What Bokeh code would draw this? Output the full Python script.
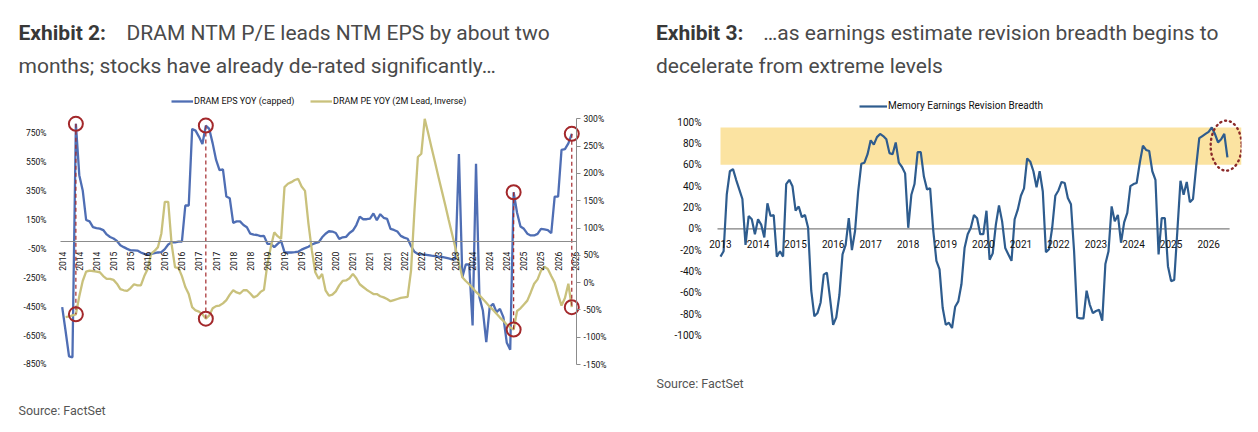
import math
from bokeh.plotting import figure
from bokeh.models import (Range1d, LinearAxis, FixedTicker, PrintfTickFormatter, Label,
                          Legend, LegendItem, BoxAnnotation)
from bokeh.layouts import row
from bokeh.embed import file_html
from bokeh.resources import INLINE

NAN = float("nan")

# ---------------- Exhibit 2 data (monthly, Jan 2014 .. Jun 2026) ----------------
eps_yoy = [-453, -620, -794, -800, 815, 460, 354, 150, 140, 100,
           93, 90, 80, 50, 32, 22, 5, -25, -38, -50,
           -60, -61, -62, -75, -85, -89, -85, -80, -75, -72,
           -52, -20, -5, -5, 0, 0, 250, 250, 780, 768,
           725, 676, 803, 780, 680, 565, 495, 500, 312, 300,
           130, 140, 140, 115, 100, 55, 49, 46, 38, 40,
           -15, -15, -38, -15, 5, -73, -75, -75, -73, -70,
           -55, -45, -35, -20, -10, -4, 30, 55, 72, 70,
           60, 19, 30, 33, 60, 77, 115, 173, 155, 155,
           160, 195, 148, 190, 165, 158, 88, 81, 70, 40,
           28, 20, -30, -70, -85, -88, -90, -93, -97, -100,
           -104, -106, -110, -116, -122, -120, 607, -246, -158, -158,
           -580, 538, -384, -476, -695, -453, -430, -488, -465, -522,
           -700, -747, 342, 200, 105, 89, 55, 43, 43, 54,
           89, 85, 80, 58, 312, 312, 635, 640, 680, 746]

pe_yoy_lead_inv = [NAN, -63, -62, -60, -58, -25, 3, 20, 22, 21,
                   20, 19, 12, 7, 7, 5, -2, -12, -14, -15,
                   -10, -3, -5, -5, 12, 25, 53, 58, 65, 90,
                   148, 148, 70, 28, 27, 12, -8, -21, -45, -51,
                   -53, -58, -66, -60, -47, -43, -42, -38, -32, -22,
                   -14, -18, -20, -14, -14, -20, -27, -24, -17, -13,
                   34, 65, 92, 85, 80, 175, 181, 184, 188, 190,
                   176, 168, 108, 59, 19, 7, 16, -14, -24, -22,
                   -16, -5, 3, 4, 8, 16, 8, -3, -8, -13,
                   -17, -21, -21, -25, -27, -30, -34, -32, -30, -28,
                   -27, -26, 22, 132, 230, 236, 300, 274, 247, 221,
                   194, 168, 142, 115, 89, 63, 36, 10, 3, -3,
                   -10, -17, -23, -30, -37, -44, -50, -57, -64, -70,
                   -77, -82, -86, -52, -47, -40, -33, -18, -2, 6,
                   22, 29, 25, 12, 0, -22, -42, -28, -2, -45]

months_left = list(range(len(eps_yoy)))
left_tick_months = list(range(0, 151, 5))
left_tick_labels = ["2014", "2014", "2014", "2015", "2015", "2016", "2016", "2016",
                    "2017", "2017", "2018", "2018", "2019", "2019", "2019", "2020",
                    "2020", "2021", "2021", "2021", "2022", "2022", "2023", "2023",
                    "2024", "2024", "2024", "2025", "2025", "2026", "2026"]
highlight_months = [4, 42, 132, 149]

# ---------------- Exhibit 3 data (monthly, Jan 2013 .. Jul 2026) ----------------
breadth = [-26, -21, 32, 54, 56, 46, 37, 28, -15, 12,
           9, -5, 9, 4, -8, 24, 12, 13, -26, -21,
           -26, 42, 46, 40, 17, 21, 11, 13, 1, -58,
           -82, -79, -69, -43, -41, -65, -90, -83, -62, -24,
           -15, 10, -20, -2, 35, 61, 62, 70, 83, 79,
           86, 89, 87, 84, 71, 70, 81, 62, 58, 52,
           1, 32, 42, 72, 72, 49, 37, 38, -2, -30,
           -38, -74, -90, -88, -93, -73, -68, -52, -18, -5,
           1, 13, 10, -5, -5, 17, -29, -23, 4, 22,
           7, -18, -24, -30, 9, 18, 31, 38, 66, 63,
           54, 39, 54, 35, -22, -19, 1, 31, 36, 44,
           43, 29, 23, -21, -83, -84, -84, -58, -71, -79,
           -77, -76, -86, -33, -21, 21, 7, 13, -13, 6,
           15, 40, 42, 43, 62, 78, 74, 73, 54, 46,
           -24, 10, 10, -35, -49, -48, -2, 45, 32, 44,
           25, 28, 58, 85, 87, 89, 91, 95, 89, 81,
           84, 89, 67]
months_right = list(range(len(breadth)))
right_tick_months = list(range(0, 157, 12))
right_tick_labels = ["2013", "2014", "2015", "2016", "2017", "2018", "2019",
                     "2020", "2021", "2022", "2023", "2024", "2025", "2026"]
band_low, band_high = 60, 95

# ---------------- styles ----------------
FONT = "Roboto"
BLUE = "#4F6EB4"
KHAKI = "#C9C17C"
NAVY = "#2E5C8E"
RED = "#A3282B"
GREY = "#8c8c8c"
TICK_COLOR = "#111111"


def add_text(p, x, y, text, size, color, bold=False):
    p.add_layout(Label(x=x, y=y, x_units="screen", y_units="screen", text=text,
                       text_font=FONT, text_font_size=size, text_color=color,
                       text_font_style="bold" if bold else "normal",
                       text_baseline="alphabetic", text_align="left"))


# ================= Exhibit 2 =================
# The frame fills the whole canvas (630 x 432); axes are pinned with fixed_location.
# Chart area: x 60..576 (months -0.5..150.4), y 118..364.
p1 = figure(width=630, height=432, output_backend="svg", toolbar_location=None,
            x_axis_type=None, y_axis_type=None,
            x_range=Range1d(-18.04, 166.17), y_range=Range1d(-1320.5, 1668.5),
            min_border=0)
p1.outline_line_color = None
p1.background_fill_color = "white"
p1.extra_y_ranges = {"pe": Range1d(-274.5, 516.7)}
X_LO, X_HI = -0.5, 150.4

yl = LinearAxis(fixed_location=X_LO, ticker=FixedTicker(ticks=list(range(-850, 751, 200))),
                formatter=PrintfTickFormatter(format="%d%%"),
                axis_line_color=None, major_tick_line_color=None, minor_tick_line_color=None,
                major_label_standoff=8, major_label_text_font=FONT,
                major_label_text_font_size="8.5px", major_label_text_color=TICK_COLOR)
p1.add_layout(yl, "left")

yr = LinearAxis(y_range_name="pe", fixed_location=X_HI,
                ticker=FixedTicker(ticks=list(range(-150, 301, 50))),
                formatter=PrintfTickFormatter(format="%d%%"), bounds=(-150, 300),
                axis_line_color=GREY, major_tick_line_color=GREY, major_tick_in=0, major_tick_out=4,
                minor_tick_line_color=None, major_label_standoff=3, major_label_text_font=FONT,
                major_label_text_font_size="8.5px", major_label_text_color=TICK_COLOR)
p1.add_layout(yr, "right")

xa = LinearAxis(fixed_location=0, ticker=FixedTicker(ticks=left_tick_months), bounds=(X_LO, X_HI),
                major_label_overrides={m: l for m, l in zip(left_tick_months, left_tick_labels)},
                major_label_orientation=math.pi / 2,
                axis_line_color=GREY, axis_line_width=1.2, major_tick_line_color=None,
                minor_tick_line_color=None, major_label_standoff=4, major_label_text_font=FONT,
                major_label_text_font_size="8.5px", major_label_text_color=TICK_COLOR)
p1.add_layout(xa, "below")

r_eps = p1.line(months_left, eps_yoy, color=BLUE, line_width=2.3)
r_pe = p1.line(months_left, pe_yoy_lead_inv, y_range_name="pe", color=KHAKI, line_width=2.3)

lo, hi = p1.y_range.start, p1.y_range.end
plo, phi = p1.extra_y_ranges["pe"].start, p1.extra_y_ranges["pe"].end
hx = highlight_months
h_eps = [eps_yoy[m] for m in hx]
h_pe = [pe_yoy_lead_inv[m] for m in hx]
h_pe_left = [lo + (v - plo) * (hi - lo) / (phi - plo) for v in h_pe]
p1.segment(x0=hx, y0=h_eps, x1=hx, y1=h_pe_left, line_color=RED, line_dash="4 3", line_width=1.2)
p1.scatter(hx, h_eps, marker="circle", size=14, fill_color=None, line_color=RED, line_width=2)
p1.scatter(hx, h_pe, y_range_name="pe", marker="circle", size=14, fill_color=None,
           line_color=RED, line_width=2)

lg1 = Legend(items=[LegendItem(label="DRAM EPS YOY (capped)", renderers=[r_eps]),
                    LegendItem(label="DRAM PE YOY (2M Lead, Inverse)", renderers=[r_pe])],
             location=(171, 326), orientation="horizontal",
             glyph_width=22, glyph_height=10, label_height=10, label_width=116, label_standoff=1,
             padding=0, margin=0, spacing=0, border_line_color=None,
             background_fill_alpha=0, label_text_font=FONT,
             label_text_font_size="9px", label_text_color=TICK_COLOR)
p1.add_layout(lg1, "center")

# titles & source (canvas coords, y measured up from the bottom)
add_text(p1, 18, 400, "Exhibit 2:", "21px", "#383838", bold=True)
add_text(p1, 126, 400, "DRAM NTM P/E leads NTM EPS by about two", "21px", "#4a4a4a")
add_text(p1, 18, 367, "months; stocks have already de-rated significantly\u2026", "21px", "#4a4a4a")
add_text(p1, 18, 22, "Source: FactSet", "12.5px", "#555555")

# ================= Exhibit 3 =================
# frame fills x 630..1241 of the page; chart area x 717..1241, y 116..364.
p2 = figure(width=628, height=432, output_backend="svg", toolbar_location=None,
            x_axis_type=None, y_axis_type=None,
            x_range=Range1d(-28.76, 166.5), y_range=Range1d(-190.95, 214.1),
            min_border_left=0, min_border_top=0, min_border_bottom=0, min_border_right=17)
p2.outline_line_color = None
p2.background_fill_color = "white"
X2_LO = -0.96

p2.add_layout(BoxAnnotation(left=months_right[0], bottom=band_low, top=band_high,
                            fill_color="#FBE3A1", fill_alpha=1, line_color=None, level="underlay"))

yl2 = LinearAxis(fixed_location=X2_LO, ticker=FixedTicker(ticks=list(range(-100, 101, 20))),
                 formatter=PrintfTickFormatter(format="%d%%"),
                 axis_line_color=None, major_tick_line_color=None, minor_tick_line_color=None,
                 major_label_standoff=10, major_label_text_font=FONT,
                 major_label_text_font_size="10px", major_label_text_color=TICK_COLOR)
p2.add_layout(yl2, "left")

xa2 = LinearAxis(fixed_location=0, ticker=FixedTicker(ticks=right_tick_months),
                 major_label_overrides={m: l for m, l in zip(right_tick_months, right_tick_labels)},
                 axis_line_color=None, major_tick_line_color=None, minor_tick_line_color=None,
                 major_label_standoff=5, major_label_text_font=FONT,
                 major_label_text_font_size="10px", major_label_text_color=TICK_COLOR)
p2.add_layout(xa2, "below")

p2.segment(x0=[X2_LO], y0=[0], x1=[months_right[-1] + 0.7], y1=[0],
           line_color="#7f7f7f", line_width=1.2)
r_br = p2.line(months_right, breadth, color=NAVY, line_width=2.2)

last = breadth[-5:]
p2.ellipse(x=[months_right[-1] - 0.4], y=[(max(last) + min(last)) / 2], width=31, height=50,
           width_units="screen", height_units="screen", fill_color=None,
           line_color="#8B2A2A", line_dash="1 4", line_cap="round", line_width=2.4)

lg2 = Legend(items=[LegendItem(label="Memory Earnings Revision Breadth", renderers=[r_br])],
             location=(229, 321), orientation="horizontal",
             glyph_width=28, glyph_height=10, label_height=10, label_standoff=1,
             padding=0, margin=0, spacing=0, border_line_color=None,
             background_fill_alpha=0, label_text_font=FONT,
             label_text_font_size="10px", label_text_color=TICK_COLOR)
p2.add_layout(lg2, "center")

add_text(p2, 25.4, 400, "Exhibit 3:", "21px", "#383838", bold=True)
add_text(p2, 132.8, 400, "\u2026as earnings estimate revision breadth begins to", "21px", "#4a4a4a")
add_text(p2, 25.4, 367, "decelerate from extreme levels", "21px", "#4a4a4a")
add_text(p2, 26, 49, "Source: FactSet", "12.5px", "#555555")

layout = row(p1, p2)
open("out.html", "w").write(file_html(layout, INLINE))
